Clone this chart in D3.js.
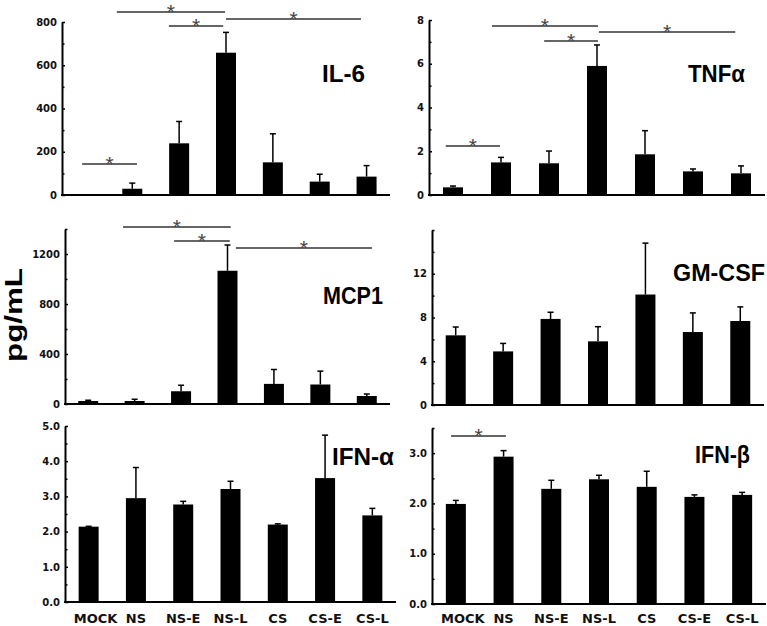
<!DOCTYPE html>
<html>
<head>
<meta charset="utf-8">
<script src="https://cdn.jsdelivr.net/npm/d3@7"></script>
<style>
  html, body { margin: 0; padding: 0; background: #fff; }
  svg { display: block; }
</style>
</head>
<body>
<svg id="chart" width="767" height="626"></svg>
<script>
// ---------------- DATA ----------------
const categories = ["MOCK", "NS", "NS-E", "NS-L", "CS", "CS-E", "CS-L"];

const il6Values   = [0, 29, 239, 658, 151, 62, 85];
const il6Errors   = [0, 26, 101, 94, 132, 34, 51];
const tnfValues   = [0.35, 1.49, 1.45, 5.9, 1.86, 1.08, 0.99];
const tnfErrors   = [0.06, 0.23, 0.56, 0.96, 1.08, 0.11, 0.34];
const mcp1Values  = [24, 24, 102, 1066, 161, 156, 64];
const mcp1Errors  = [6, 14, 48, 206, 115, 107, 16];
const gmcsfValues = [6.37, 4.9, 7.87, 5.82, 10.1, 6.67, 7.68];
const gmcsfErrors = [0.76, 0.73, 0.61, 1.34, 4.7, 1.75, 1.29];
const ifnaValues  = [2.14, 2.95, 2.77, 3.21, 2.20, 3.52, 2.46];
const ifnaErrors  = [0.01, 0.87, 0.09, 0.22, 0.02, 1.22, 0.20];
const ifnbValues  = [1.99, 2.93, 2.29, 2.48, 2.33, 2.13, 2.17];
const ifnbErrors  = [0.07, 0.12, 0.17, 0.08, 0.31, 0.04, 0.05];

const il6Ticks   = [0, 200, 400, 600, 800];
const il6Minor   = [100, 300, 500, 700];
const tnfTicks   = [0, 2, 4, 6, 8];
const tnfMinor   = [1, 3, 5, 7];
const mcp1Ticks  = [0, 400, 800, 1200];
const mcp1Minor  = [200, 600, 1000, 1400];
const gmcsfTicks = [0, 4, 8, 12];
const gmcsfMinor = [2, 6, 10, 14, 16];
const ifnaTicks  = [0, 1, 2, 3, 4, 5];
const ifnaMinor  = [0.5, 1.5, 2.5, 3.5, 4.5];
const ifnbTicks  = [0, 1, 2, 3];
const ifnbMinor  = [0.5, 1.5, 2.5, 3.5];

// significance brackets: [from category position, to category position, level in data units]
const il6Sig  = [[-0.07, 1.10, 143], [0.67, 2.98, 846], [1.78, 2.94, 781], [3.0, 5.88, 814]];
const tnfSig  = [[-0.15, 0.98, 2.24], [0.81, 3.02, 7.73], [1.90, 3.02, 7.04], [3.04, 5.88, 7.45]];
const mcp1Sig = [[0.75, 3.07, 1416], [1.85, 3.05, 1304], [3.18, 6.11, 1248]];
const ifnbSig = [[-0.10, 1.05, 3.34]];

// ---------------- LAYOUT ----------------
const panels = [
  { name: "IL-6",  values: il6Values,  errors: il6Errors,  ticks: il6Ticks,  minor: il6Minor,  fmt: d3.format("d"),   max: 800,  sig: il6Sig,
    x0: 62,  x1: 390, y0: 195, y1: 22,  label: { x: 322, y: 82,  size: 24, len: 43 } },
  { name: "TNFα",  values: tnfValues,  errors: tnfErrors,  ticks: tnfTicks,  minor: tnfMinor,  fmt: d3.format("d"),   max: 8,    sig: tnfSig,
    x0: 429, x1: 765, y0: 195, y1: 20,  label: { x: 688, y: 82,  size: 23, len: 57 } },
  { name: "MCP1",  values: mcp1Values, errors: mcp1Errors, ticks: mcp1Ticks, minor: mcp1Minor, fmt: d3.format("d"),   max: 1400, sig: mcp1Sig,
    x0: 65,  x1: 390, y0: 404, y1: 229, label: { x: 323, y: 304, size: 23, len: 60 } },
  { name: "GM-CSF",values: gmcsfValues,errors: gmcsfErrors,ticks: gmcsfTicks,minor: gmcsfMinor,fmt: d3.format("d"),   max: 16,   sig: [],
    x0: 432, x1: 764, y0: 405, y1: 230, label: { x: 673, y: 281, size: 24, len: 92 } },
  { name: "IFN-α", values: ifnaValues, errors: ifnaErrors, ticks: ifnaTicks, minor: ifnaMinor, fmt: d3.format(".1f"), max: 5,    sig: [],
    x0: 65,  x1: 396, y0: 602, y1: 426, label: { x: 332, y: 465, size: 24, len: 62 }, xlabels: true },
  { name: "IFN-β", values: ifnbValues, errors: ifnbErrors, ticks: ifnbTicks, minor: ifnbMinor, fmt: d3.format(".1f"), max: 3.5,  sig: ifnbSig,
    x0: 432, x1: 766, y0: 604, y1: 428, label: { x: 695, y: 463, size: 23, len: 55 }, xlabels: true }
];

const svg = d3.select("#chart");

panels.forEach(p => {
  const g = svg.append("g");
  const x = d3.scaleBand().domain(categories).range([p.x0, p.x1]).padding(0);
  const y = d3.scaleLinear().domain([0, p.max]).range([p.y0, p.y1]);
  const pos = d3.scaleLinear().domain([0, 1]).range([x(categories[0]) + x.bandwidth() / 2, x(categories[1]) + x.bandwidth() / 2]);
  const bw = 20;

  // bars
  g.selectAll("rect.bar").data(p.values).join("rect")
    .attr("x", (d, i) => x(categories[i]) + x.bandwidth() / 2 - bw / 2)
    .attr("y", d => y(d))
    .attr("width", bw)
    .attr("height", d => y(0) - y(d))
    .attr("fill", "#000");

  // error bars (upper only)
  p.values.forEach((v, i) => {
    const e = p.errors[i];
    if (e <= 0) return;
    const cx = x(categories[i]) + x.bandwidth() / 2;
    g.append("line").attr("x1", cx).attr("x2", cx).attr("y1", y(v)).attr("y2", y(v + e))
      .attr("stroke", "#000").attr("stroke-width", 1.5);
    g.append("line").attr("x1", cx - 3).attr("x2", cx + 3).attr("y1", y(v + e)).attr("y2", y(v + e))
      .attr("stroke", "#000").attr("stroke-width", 1.5);
  });

  // y axis: major ticks with labels
  const yAxis = d3.axisLeft(y).tickValues(p.ticks).tickFormat(p.fmt).tickSizeInner(-3).tickSizeOuter(0).tickPadding(5);
  const ag = g.append("g").attr("transform", `translate(${p.x0},0)`).call(yAxis);
  ag.select(".domain").attr("stroke-width", 2).attr("stroke", "#000");
  ag.selectAll(".tick line").attr("stroke-width", 1.5);
  ag.selectAll(".tick text").attr("font-family", "DejaVu Sans").attr("font-weight", "bold")
    .attr("font-size", 10).attr("fill", "#111");

  // minor ticks
  const mAxis = d3.axisLeft(y).tickValues(p.minor).tickFormat("").tickSizeInner(-2.5).tickSizeOuter(0);
  const mg = g.append("g").attr("transform", `translate(${p.x0},0)`).call(mAxis);
  mg.select(".domain").remove();
  mg.selectAll(".tick line").attr("stroke-width", 1.5);

  // x axis baseline
  g.append("line").attr("x1", p.x0 - 1).attr("x2", p.x1).attr("y1", y(0)).attr("y2", y(0))
    .attr("stroke", "#000").attr("stroke-width", 2);

  // significance brackets
  p.sig.forEach(s => {
    const xa = pos(s[0]), xb = pos(s[1]), yy = y(s[2]);
    g.append("line").attr("x1", xa).attr("x2", xb).attr("y1", yy).attr("y2", yy)
      .attr("stroke", "#333").attr("stroke-width", 1.5);
    g.append("text").attr("x", (xa + xb) / 2).attr("y", yy + 7).attr("text-anchor", "middle")
      .attr("font-family", "Liberation Sans").attr("font-size", 21).attr("fill", "#444").text("*");
  });

  // panel label
  g.append("text").attr("x", p.label.x).attr("y", p.label.y)
    .attr("font-family", "Liberation Sans").attr("font-weight", "bold").attr("font-size", p.label.size)
    .attr("textLength", p.label.len).attr("lengthAdjust", "spacingAndGlyphs")
    .attr("fill", "#000").text(p.name);

  // category labels
  if (p.xlabels) {
    g.selectAll("text.cat").data(categories).join("text").attr("class", "cat")
      .attr("x", (d, i) => x(d) + x.bandwidth() / 2 + (i === 0 ? 7 : 0))
      .attr("y", 623).attr("text-anchor", "middle")
      .attr("font-family", "DejaVu Sans").attr("font-weight", "bold").attr("font-size", 13)
      .attr("fill", "#111").text(d => d);
  }
});

// shared y label
svg.append("text")
  .attr("transform", "translate(22,315) rotate(-90)")
  .attr("text-anchor", "middle")
  .attr("font-family", "Liberation Sans").attr("font-weight", "bold").attr("font-size", 24)
  .attr("textLength", 94).attr("lengthAdjust", "spacingAndGlyphs")
  .attr("fill", "#000").text("pg/mL");
</script>
</body>
</html>
